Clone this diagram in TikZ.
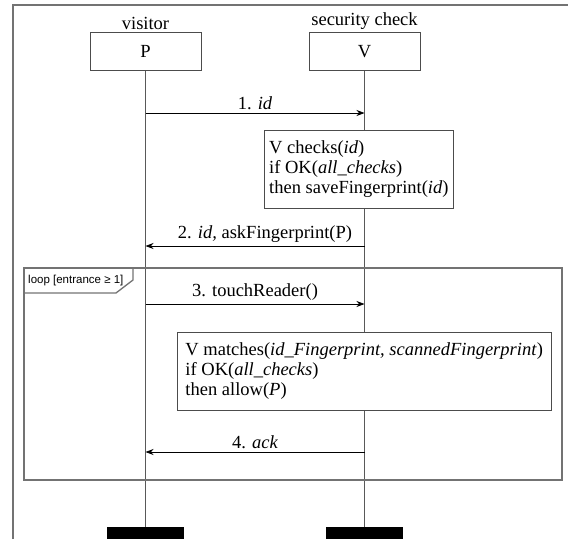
\documentclass[tikz,border=0pt]{standalone}
\usepackage{fontspec}
\setmainfont{Liberation Serif}
\newfontfamily\tagfont{Liberation Sans}
\usetikzlibrary{arrows.meta, positioning, calc}

\tikzset{
	actor/.style={draw=black!70, fill=white, minimum width=111pt, minimum height=38pt, inner sep=0pt},
	lifeline/.style={draw=black!65, line width=0.9pt},
	msg/.style={draw=black, line width=0.8pt, -{Stealth[length=8pt, width=6pt, inset=2.5pt]}},
	note/.style={draw=black!70, fill=white, align=left, inner xsep=5pt, anchor=north west, minimum height=78pt},
	frameline/.style={draw=black!55, line width=1.3pt},
	stopbar/.style={fill=black, minimum width=77pt, minimum height=11.5pt, inner sep=0pt, anchor=north},
}

\begin{document}
\begin{tikzpicture}[x=1pt, y=-1pt, font=\fontsize{18.5}{20}\selectfont]
			\useasboundingbox (0,0) rectangle (568,539);
			
			% --- Define Coordinates ---
			% Lifeline ends
			\coordinate (Pend) at (145.5,527);
			\coordinate (Vend) at (364.5,527);
			
			% Message points
			\coordinate (P1) at (145.5,113);
			\coordinate (V1) at (364.5,113);
			\coordinate (P2) at (145.5,246);
			\coordinate (V2) at (364.5,246);
			\coordinate (P3) at (145.5,304);
			\coordinate (V3) at (364.5,304);
			\coordinate (P4) at (145.5,452);
			\coordinate (V4) at (364.5,452);
			
			% --- Outer Frame ---
			\draw[frameline] (13,539) -- (13,5) -- (568,5);
			
			% --- Actors ---
			\node[actor] (P) at (145.5,51.6) {P};
			\node[actor] (V) at (364.5,51.6) {V};
			\node[above=-1pt of P] (Plabel) {visitor};
			\node[above=-1pt of V] (Vlabel) {security check};
			
			% --- Lifelines ---
			\node[stopbar] (Pstop) at (Pend) {};
			\node[stopbar] (Vstop) at (Vend) {};
			\draw[lifeline] (P.south) -- (Pstop.north);
			\draw[lifeline] (V.south) -- (Vstop.north);
			
			% --- Loop Fragment ---
			\draw[frameline] (24,268) rectangle (562,480);
			\draw[frameline] (24,293) -- (116,293) -- (133,280) -- (133,268);
			\node[font=\tagfont\fontsize{11.5}{14}\selectfont, anchor=west, inner sep=0pt] (looptag) at (28,281) {loop [entrance ≥ 1]};
			
			% --- Messages ---
			\draw[msg] (P1) -- (V1) node[midway, above] {1. \textit{id}};
			\draw[msg] (V2) -- (P2) node[midway, above, xshift=10pt] {2. \textit{id,} askFingerprint(P)};
			\draw[msg] (P3) -- (V3) node[midway, above] {3. touchReader()};
			\draw[msg] (V4) -- (P4) node[midway, above] {4. \textit{ack}};
			
			% --- Notes ---
			\node[note, minimum width=189pt] (checks) at (264,130)
				{V checks(\textit{id})\\ if OK(\textit{all\_checks})\\ then saveFingerprint(\textit{id})};
			\node[note, minimum width=374pt] (matches) at (177,332)
				{V matches(\textit{id\_Fingerprint, scannedFingerprint})\\ if OK(\textit{all\_checks})\\ then allow(\textit{P})};
			
		\end{tikzpicture}
\end{document}
